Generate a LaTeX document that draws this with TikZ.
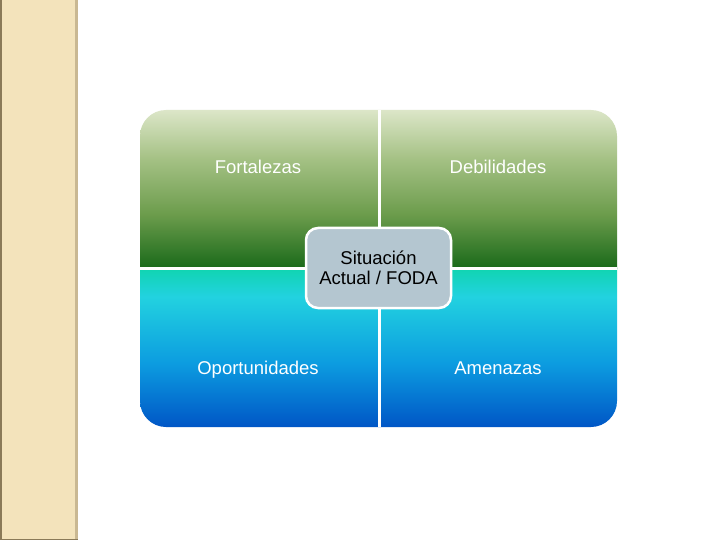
\documentclass[tikz,border=0pt]{standalone}
\usepackage{fontspec}
\setmainfont{Liberation Sans}
\definecolor{gtop}{HTML}{DCE6C8}
\definecolor{gm1}{HTML}{A6C286}
\definecolor{gm2}{HTML}{6C9C4C}
\definecolor{gbot}{HTML}{1A6A1A}
\definecolor{btop}{HTML}{10D4B0}
\definecolor{bm1}{HTML}{22D2E0}
\definecolor{bm2}{HTML}{0C9CE0}
\definecolor{bbot}{HTML}{0056C6}
\definecolor{strip}{HTML}{F3E3BB}
\definecolor{stripedge}{HTML}{C9B892}
\definecolor{stripdark}{HTML}{8A7A58}
\definecolor{centerfill}{HTML}{B4C6D0}
\pgfdeclareverticalshading{topq}{100bp}{color(0bp)=(gbot); color(25bp)=(gbot); color(42bp)=(gm2); color(60bp)=(gm1); color(75bp)=(gtop); color(100bp)=(gtop)}
\pgfdeclareverticalshading{botq}{100bp}{color(0bp)=(bbot); color(25bp)=(bbot); color(45bp)=(bm2); color(66bp)=(bm1); color(75bp)=(btop); color(100bp)=(btop)}
\tikzset{
  quadlabel/.style={text=white, font=\fontsize{18.5}{20}\selectfont, inner sep=0pt, anchor=base},
  centerbox/.style={draw=white, line width=2.5pt, fill=centerfill, rounded corners=12pt,
    minimum width=145pt, minimum height=80pt, align=center, text=black,
    font=\fontsize{18.5}{20.5}\selectfont},
  divider/.style={white, line width=3pt}
}
\begin{document}
\begin{tikzpicture}[x=1pt,y=-1pt]
\useasboundingbox (0,0) rectangle (720,540);
\fill[white] (0,0) rectangle (720,540);
% left strip
\fill[strip] (0,0) rectangle (78,540);
\fill[stripedge] (75,0) rectangle (78,540);
\fill[stripdark] (0,0) rectangle (1.5,540);
\fill[stripdark] (0,538.5) rectangle (78,540);
% quadrants
\begin{scope}
  \clip[rounded corners=26pt] (140,110) rectangle (617,427);
  \shade[shading=topq] (140,110) rectangle (617,268);
  \shade[shading=botq] (140,268) rectangle (617,427);
\end{scope}
\coordinate (vt) at (379,110);
\coordinate (vb) at (379,427);
\coordinate (hl) at (140,268);
\coordinate (hr) at (617,268);
\draw[divider] (vt) -- (vb);
\draw[divider] (hl) -- (hr);
\node[quadlabel] (f) at (258,174) {Fortalezas};
\node[quadlabel] (d) at (498,174) {Debilidades};
\node[quadlabel] (o) at (258,374) {Oportunidades};
\node[quadlabel] (a) at (498,374) {Amenazas};
\node[centerbox] (c) at (378.5,268) {Situación\\Actual / FODA};
\end{tikzpicture}
\end{document}
